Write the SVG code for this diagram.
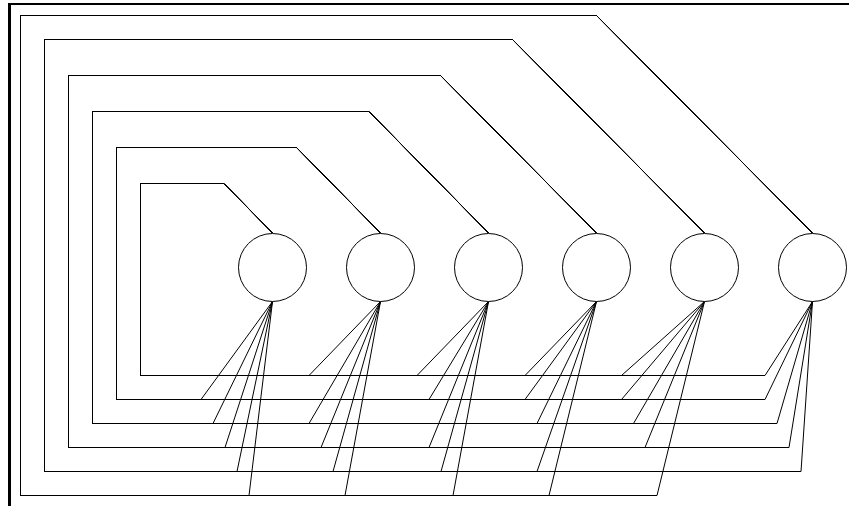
<svg xmlns="http://www.w3.org/2000/svg" width="849" height="506" viewBox="0 0 849 506">
<style>
.e{fill:none;stroke:#000;stroke-width:1}
.n{fill:#fff;stroke:#000;stroke-width:1}
.f{stroke:#000;fill:none}
</style>
<rect x="0" y="0" width="849" height="506" fill="#fff"/>
<g id="frame">
<line class="f" x1="9.5" y1="3" x2="9.5" y2="506" stroke-width="3"/>
<line class="f" x1="8" y1="4" x2="849" y2="4" stroke-width="2"/>
</g>
<g id="connectors">
<path class="e" d="M272.5 301.5 L201 399.5 H116.5 V147.5 H296.5 L380.5 233"/>
<path class="e" d="M272.5 301.5 L213 423.5 H92.5 V111.5 H369 L488.5 233"/>
<path class="e" d="M272.5 301.5 L225 447.5 H68.5 V75.5 H440.5 L596.5 233"/>
<path class="e" d="M272.5 301.5 L237 471.5 H44.5 V39.5 H512.5 L704.5 233"/>
<path class="e" d="M272.5 301.5 L249 495.5 H20.5 V15.5 H596.5 L812.5 233"/>
<path class="e" d="M380.5 301.5 L309 375.5 H140.5 V183.5 H224 L272.5 233"/>
<path class="e" d="M380.5 301.5 L309 423.5 H92.5 V111.5 H369 L488.5 233"/>
<path class="e" d="M380.5 301.5 L321 447.5 H68.5 V75.5 H440.5 L596.5 233"/>
<path class="e" d="M380.5 301.5 L333 471.5 H44.5 V39.5 H512.5 L704.5 233"/>
<path class="e" d="M380.5 301.5 L345 495.5 H20.5 V15.5 H596.5 L812.5 233"/>
<path class="e" d="M488.5 301.5 L417 375.5 H140.5 V183.5 H224 L272.5 233"/>
<path class="e" d="M488.5 301.5 L429 399.5 H116.5 V147.5 H296.5 L380.5 233"/>
<path class="e" d="M488.5 301.5 L429 447.5 H68.5 V75.5 H440.5 L596.5 233"/>
<path class="e" d="M488.5 301.5 L441 471.5 H44.5 V39.5 H512.5 L704.5 233"/>
<path class="e" d="M488.5 301.5 L453 495.5 H20.5 V15.5 H596.5 L812.5 233"/>
<path class="e" d="M596.5 301.5 L525 375.5 H140.5 V183.5 H224 L272.5 233"/>
<path class="e" d="M596.5 301.5 L525 399.5 H116.5 V147.5 H296.5 L380.5 233"/>
<path class="e" d="M596.5 301.5 L537 423.5 H92.5 V111.5 H369 L488.5 233"/>
<path class="e" d="M596.5 301.5 L537 471.5 H44.5 V39.5 H512.5 L704.5 233"/>
<path class="e" d="M596.5 301.5 L549 495.5 H20.5 V15.5 H596.5 L812.5 233"/>
<path class="e" d="M704.5 301.5 L621.5 375.5 H140.5 V183.5 H224 L272.5 233"/>
<path class="e" d="M704.5 301.5 L621.5 399.5 H116.5 V147.5 H296.5 L380.5 233"/>
<path class="e" d="M704.5 301.5 L633.5 423.5 H92.5 V111.5 H369 L488.5 233"/>
<path class="e" d="M704.5 301.5 L645 447.5 H68.5 V75.5 H440.5 L596.5 233"/>
<path class="e" d="M704.5 301.5 L657 495.5 H20.5 V15.5 H596.5 L812.5 233"/>
<path class="e" d="M812.5 301.5 L765 375.5 H140.5 V183.5 H224 L272.5 233"/>
<path class="e" d="M812.5 301.5 L765 399.5 H116.5 V147.5 H296.5 L380.5 233"/>
<path class="e" d="M812.5 301.5 L777 423.5 H92.5 V111.5 H369 L488.5 233"/>
<path class="e" d="M812.5 301.5 L789 447.5 H68.5 V75.5 H440.5 L596.5 233"/>
<path class="e" d="M812.5 301.5 L801 471.5 H44.5 V39.5 H512.5 L704.5 233"/>
</g>
<g id="node1"><circle class="n" cx="272.5" cy="267.5" r="34"/></g>
<g id="node2"><circle class="n" cx="380.5" cy="267.5" r="34"/></g>
<g id="node3"><circle class="n" cx="488.5" cy="267.5" r="34"/></g>
<g id="node4"><circle class="n" cx="596.5" cy="267.5" r="34"/></g>
<g id="node5"><circle class="n" cx="704.5" cy="267.5" r="34"/></g>
<g id="node6"><circle class="n" cx="812.5" cy="267.5" r="34"/></g>
</svg>
